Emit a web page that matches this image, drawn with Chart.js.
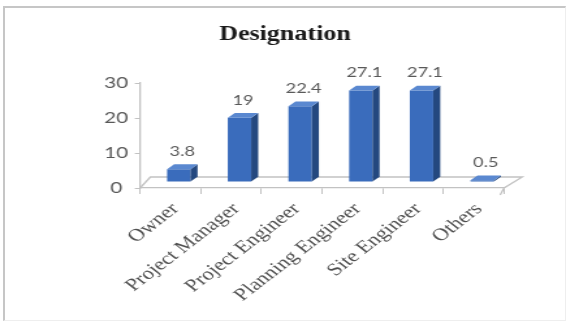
<!DOCTYPE html>
<html>
<head>
<meta charset="utf-8">
<script src="https://cdn.jsdelivr.net/npm/chart.js@4.4.0/dist/chart.umd.min.js"></script>
<style>
  body { margin: 0; background: #fff; width: 566px; height: 326px; overflow: hidden; position: relative; }
  /* the source picture is stretched sideways, so the canvas is too */
  canvas { display: block; transform: scaleX(1.3011); transform-origin: 0 0; }
  #frame {
    position: absolute; left: 3px; top: 6px; width: 560px; height: 312px;
    border-left: 2px solid #c6c6c6; border-top: 2px solid #c6c6c6;
    border-right: 1px solid #eeeeee; border-bottom: 1px solid #eeeeee;
  }
</style>
</head>
<body>
<canvas id="myChart" width="435" height="326"></canvas>
<div id="frame"></div>
<script>
// data
const chartTitle = 'Designation';
const categories = ['Owner', 'Project Manager', 'Project Engineer', 'Planning Engineer', 'Site Engineer', 'Others'];
const designationValues = [3.8, 19, 22.4, 27.1, 27.1, 0.5];
const yTickStep = 10;
const yMax = 30;

// 3d look (canvas px)
const depthX = 5.4, depthY = -5;
const barShiftX = 6.5, barShiftY = -6, barScaleY = 0.965;

// title is drawn by hand so it can sit off the plot's centre like in the picture
var titleText = {
    id: 'titleText',
    afterDraw(chart) {
        const c = chart.ctx;
        c.save();
        c.fillStyle = '#1a1a1a';
        c.font = 'bold 20px "Liberation Serif"';
        c.textAlign = 'center';
        c.textBaseline = 'alphabetic';
        c.fillText(chartTitle, 219, 40);
        c.restore();
    }
};

var floor = {
    id: 'floor',
    beforeDatasetsDraw(chart) {
        const a = chart.chartArea;
        const c = chart.ctx;
        c.save();
        c.strokeStyle = '#c2c2c2';
        c.lineWidth = 1.3;
        c.beginPath();
        c.moveTo(a.left, a.bottom);
        c.lineTo(a.left + 8, a.bottom - 11);
        c.lineTo(a.right + 14, a.bottom - 11);
        c.lineTo(a.right, a.bottom);
        c.lineTo(a.right - 3, a.bottom + 7);
        c.stroke();
        c.restore();
    }
};

var bars3d = {
    id: 'bars3d',
    beforeDatasetsDraw(chart) {
        const c = chart.ctx;
        const b = chart.chartArea.bottom;
        c.save();
        c.translate(barShiftX, b + barShiftY);
        c.scale(1, barScaleY);
        c.translate(0, -b);
    },
    afterDatasetsDraw(chart) {
        const c = chart.ctx;
        const b = chart.chartArea.bottom;
        const meta = chart.getDatasetMeta(0);
        meta.data.forEach(function (bar) {
            const w = bar.width;
            const l = bar.x - w / 2, r = bar.x + w / 2;
            c.fillStyle = '#24487f';
            c.beginPath();
            c.moveTo(r, bar.y);
            c.lineTo(r + depthX, bar.y + depthY);
            c.lineTo(r + depthX, bar.base + depthY);
            c.lineTo(r, bar.base);
            c.closePath();
            c.fill();
            c.fillStyle = '#5a88d0';
            c.beginPath();
            c.moveTo(l, bar.y);
            c.lineTo(l + depthX, bar.y + depthY);
            c.lineTo(r + depthX, bar.y + depthY);
            c.lineTo(r, bar.y);
            c.closePath();
            c.fill();
        });
        c.restore();

        c.save();
        c.fillStyle = '#595959';
        c.font = '14px Lato';
        c.textAlign = 'center';
        c.textBaseline = 'alphabetic';
        meta.data.forEach(function (bar, i) {
            const topY = b + barShiftY + (bar.y - b) * barScaleY + depthY;
            c.fillText(String(designationValues[i]), bar.x + barShiftX + depthX / 2, topY - 8);
        });
        c.restore();
    }
};

const ctx = document.getElementById('myChart');
var chart = new Chart(ctx, {
    type: 'bar',
    data: {
        labels: categories,
        datasets: [{
            data: designationValues,
            backgroundColor: '#3a6cbc',
            borderWidth: 0,
            barPercentage: 0.386,
            categoryPercentage: 1
        }]
    },
    options: {
        responsive: false,
        animation: false,
        devicePixelRatio: 1,
        layout: {
            padding: { left: 27.6, right: 47.6, top: 83, bottom: 20 }
        },
        plugins: {
            legend: { display: false },
            tooltip: { enabled: false },
            title: { display: false }
        },
        scales: {
            x: {
                grid: { drawOnChartArea: false, tickLength: 6, color: '#c2c2c2' },
                border: { color: '#c2c2c2', width: 1.3 },
                ticks: {
                    maxRotation: 45,
                    minRotation: 45,
                    color: '#505050',
                    padding: 5,
                    labelOffset: 4,
                    font: { family: 'Liberation Serif', size: 17.5 }
                },
                afterFit: function (s) { s.height = 118; }
            },
            y: {
                min: 0,
                max: yMax,
                ticks: {
                    stepSize: yTickStep,
                    color: '#595959',
                    padding: 5,
                    crossAlign: 'center',
                    font: { family: 'Lato', size: 16 }
                },
                grid: { drawOnChartArea: false, tickLength: 4, color: '#c2c2c2' },
                border: { color: '#c2c2c2', width: 1.3 },
                afterFit: function (s) { s.width = 80; }
            }
        }
    },
    plugins: [floor, bars3d, titleText]
});
</script>
</body>
</html>
